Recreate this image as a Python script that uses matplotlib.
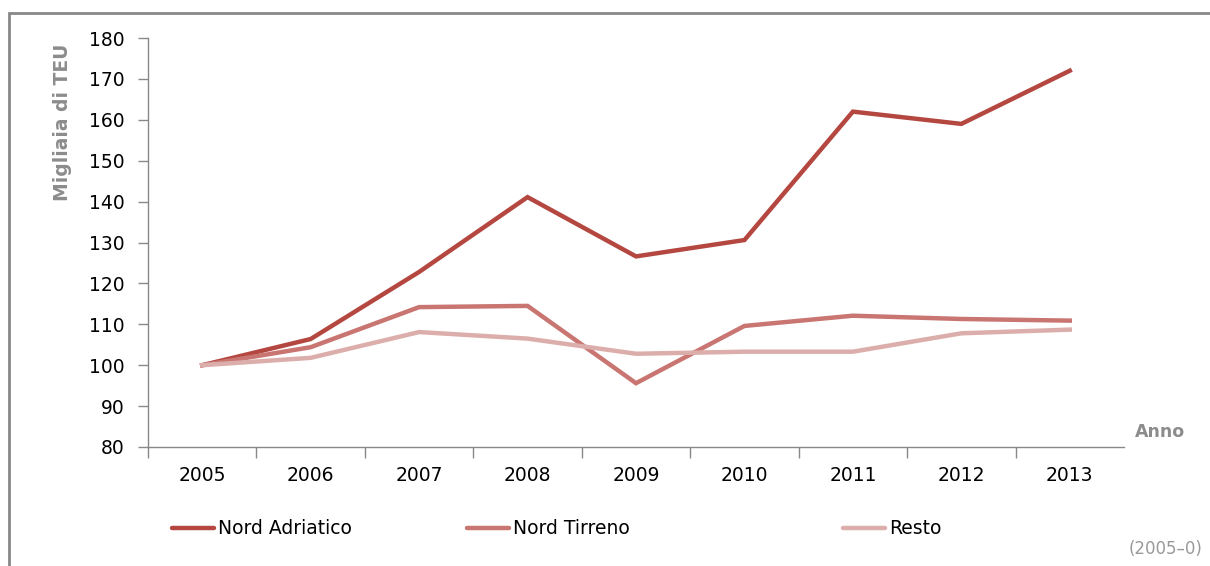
import matplotlib.pyplot as plt
from matplotlib.lines import Line2D
from matplotlib.patches import Rectangle

anni = ['2005', '2006', '2007', '2008', '2009', '2010', '2011', '2012', '2013']
nord_adriatico = [100, 106.4, 122.8, 141.1, 126.6, 130.6, 162.0, 159.0, 172.0]
nord_tirreno = [100, 104.4, 114.2, 114.5, 95.6, 109.6, 112.1, 111.3, 110.9]
resto = [100, 101.8, 108.1, 106.5, 102.8, 103.3, 103.3, 107.8, 108.7]

serie = [('Nord Adriatico', nord_adriatico, '#b54741'),
         ('Nord Tirreno', nord_tirreno, '#c97571'),
         ('Resto', resto, '#dcaeab')]

plt.rcParams['font.family'] = ['DejaVu Sans']
fig = plt.figure(figsize=(12.1, 5.66), dpi=100)
ax = fig.add_axes([148 / 1210, 1 - 447 / 566, 976 / 1210, 409 / 566])

x = range(len(anni))
for nome, valori, col in serie:
    ax.plot(x, valori, color=col, lw=3.2, solid_joinstyle='miter', label=nome)

ax.set_xlim(-0.5, len(anni) - 0.5)
ax.set_ylim(80, 180)
ax.set_yticks(range(80, 181, 10))
ax.set_xticks(list(x))
ax.set_xticklabels(anni)
ax.set_xticks([i - 0.5 for i in range(len(anni))], minor=True)
ax.tick_params(axis='x', which='major', length=0, pad=14, labelsize=13.5)
ax.tick_params(axis='x', which='minor', length=8, color='#888888', width=1)
ax.tick_params(axis='y', length=7, color='#888888', width=1, labelsize=13.5, pad=10)
for s in ['top', 'right']:
    ax.spines[s].set_visible(False)
for s in ['left', 'bottom']:
    ax.spines[s].set_color('#888888')
    ax.spines[s].set_linewidth(1)

ax.set_ylabel('Migliaia di TEU', fontsize=13.5, fontweight='bold', color='#8c8c8c')
ax.yaxis.set_label_coords(-0.078, 0.795)

fig.text(1135 / 1210, 1 - 432 / 566, 'Anno', fontsize=12.5, fontweight='bold', color='#8c8c8c', va='center')
fig.text(1202 / 1210, 1 - 549 / 566, '(2005\u20130)', fontsize=12, color='#999999', va='center', ha='right')

# legenda
leg_x = [172, 467, 843]
for (nome, valori, col), lx in zip(serie, leg_x):
    yy = 1 - 528 / 566
    fig.add_artist(Line2D([lx / 1210, (lx + 42) / 1210], [yy, yy], color=col, lw=3.2,
                          solid_capstyle='round'))
    fig.text((lx + 46) / 1210, yy, nome, fontsize=13.5, va='center', color='black')

# cornice
fig.add_artist(Rectangle((9 / 1210, -0.1), 1.2, 1 - 13 / 566 + 0.1, fill=False,
                         edgecolor='#888888', lw=2, transform=fig.transFigure))

fig.savefig('out.png', dpi=100)
